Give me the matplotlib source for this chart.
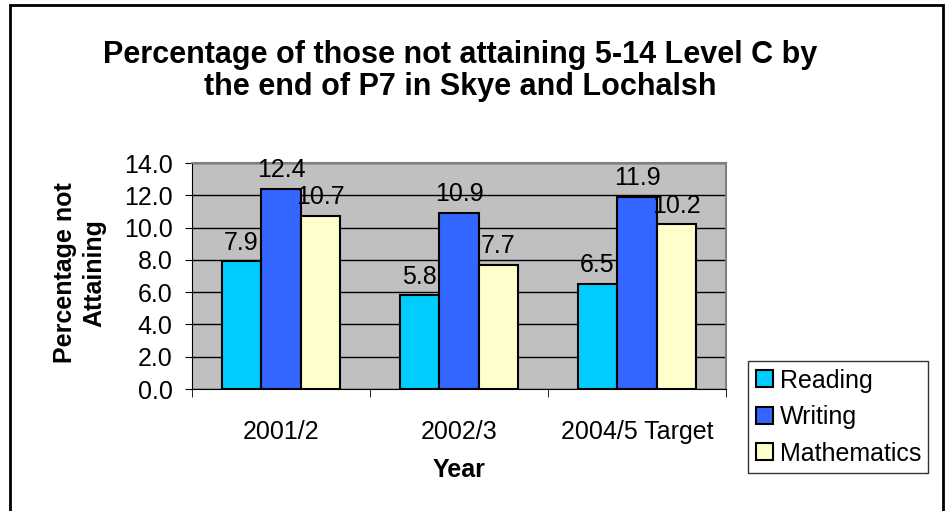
import numpy as np
import matplotlib
matplotlib.use("Agg")
import matplotlib.pyplot as plt
from matplotlib.patches import Rectangle

plt.rcParams['font.family'] = ['Liberation Sans', 'DejaVu Sans']

years = ["2001/2", "2002/3", "2004/5 Target"]
reading = [7.9, 5.8, 6.5]
writing = [12.4, 10.9, 11.9]
maths = [10.7, 7.7, 10.2]
series_names = ["Reading", "Writing", "Mathematics"]
colors = ["#00CCFF", "#3366FF", "#FFFFCC"]

W, H = 951, 511
fig = plt.figure(figsize=(W / 100, H / 100), dpi=100)

# outer chart border (bottom edge runs off the picture)
fig.add_artist(Rectangle((10 / W, -0.05), 933 / W, 1.05 - 5 / H,
                         transform=fig.transFigure, fill=False,
                         edgecolor="black", linewidth=2))

ax = fig.add_axes([192 / W, 1 - 389 / H, (726 - 192) / W, (389 - 163) / H])
ax.set_facecolor("#C0C0C0")

x = np.arange(len(years))
w = 0.222
for i, (vals, name, c) in enumerate(zip([reading, writing, maths], series_names, colors)):
    pos = x + (i - 1) * w
    ax.bar(pos, vals, w, color=c, edgecolor="black", linewidth=1.5, label=name, zorder=3)
    for p, v in zip(pos, vals):
        ax.annotate(f"{v:.1f}", (p, v), xytext=(0, 8.5), textcoords="offset points",
                    ha="center", va="baseline", fontsize=18, zorder=4)

ax.set_xlim(-0.5, 2.5)
ax.set_ylim(0, 14)
yt = np.arange(0, 14.1, 2)
ax.set_yticks(yt)
ax.set_yticklabels([f"{t:.1f}" for t in yt], fontsize=18)
ax.yaxis.grid(True, color="black", linewidth=1, zorder=0)
ax.set_axisbelow(True)

ax.set_xticks(x)
ax.set_xticklabels(years, fontsize=18)
ax.tick_params(axis="x", length=0, pad=22)
ax.set_xticks([-0.5, 0.5, 1.5, 2.5], minor=True)
ax.tick_params(axis="x", which="minor", length=6, color="black")
ax.tick_params(axis="y", length=5, color="black", pad=9)

for s in ["top", "right"]:
    ax.spines[s].set_color("#808080")
    ax.spines[s].set_linewidth(1.5)
for s in ["left", "bottom"]:
    ax.spines[s].set_color("black")

fig.text(459 / W, 1 - 470 / H, "Year", ha="center", va="center",
         fontsize=18, fontweight="bold")
fig.text(80 / W, 1 - 273 / H, "Percentage not\nAttaining", ha="center", va="center",
         rotation=90, fontsize=18, fontweight="bold", linespacing=1.3)

fig.text(460 / W, 1 - 71 / H,
         "Percentage of those not attaining 5-14 Level C by\nthe end of P7 in Skye and Lochalsh",
         ha="center", va="center", fontsize=22, fontweight="bold", linespacing=1.05)

leg = fig.legend(loc="upper left", bbox_to_anchor=(748 / W, 1 - 361 / H),
                 fontsize=18, frameon=True, fancybox=False, edgecolor="black",
                 handlelength=0.68, handleheight=0.68, handletextpad=0.28,
                 borderpad=0.3, labelspacing=0.5, borderaxespad=0)
leg.get_frame().set_linewidth(1)

fig.savefig("out.png", dpi=100)
